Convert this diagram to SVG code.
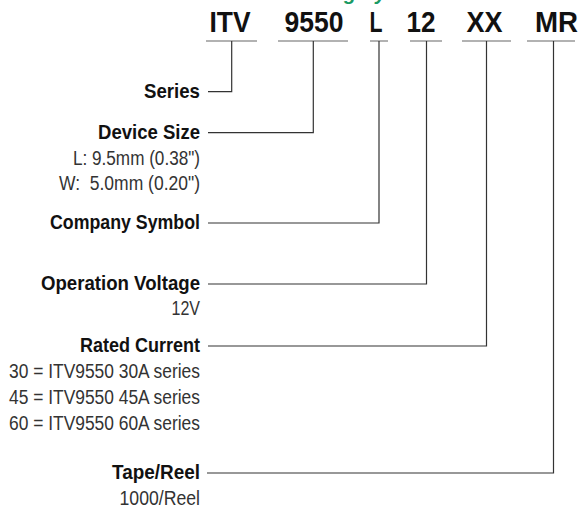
<svg xmlns="http://www.w3.org/2000/svg" width="582" height="512" viewBox="0 0 582 512">
<style>
.title{font-family:"Liberation Sans",Arial,sans-serif;font-weight:bold;font-style:italic;font-size:20px;fill:#1a9a64}
.code{font-family:"Liberation Sans Narrow","Liberation Sans",Arial,sans-serif;font-weight:bold;font-size:30px;fill:#111;text-anchor:middle}
.lbl{font-family:"Liberation Sans Narrow","Liberation Sans",Arial,sans-serif;font-weight:bold;font-size:21px;fill:#111;text-anchor:end}
.sub{font-family:"Liberation Sans Narrow","Liberation Sans",Arial,sans-serif;font-size:20.5px;fill:#333;text-anchor:end}
.ul{stroke:#666;stroke-width:1.2;fill:none}
.con{stroke:#333;stroke-width:1.2;fill:none}
</style>
<rect width="582" height="512" fill="#fff"/>
<text class="title" x="433" y="-0.5" text-anchor="end">Part Numbering System</text>
<g id="codes">
<text class="code" x="230" y="32" textLength="41" lengthAdjust="spacingAndGlyphs">ITV</text>
<text class="code" x="314" y="32" textLength="59" lengthAdjust="spacingAndGlyphs">9550</text>
<text class="code" x="376" y="32" textLength="13" lengthAdjust="spacingAndGlyphs">L</text>
<text class="code" x="421" y="32" textLength="29" lengthAdjust="spacingAndGlyphs">12</text>
<text class="code" x="484.5" y="32" textLength="36" lengthAdjust="spacingAndGlyphs">XX</text>
<text class="code" x="556.5" y="32" textLength="43" lengthAdjust="spacingAndGlyphs">MR</text>
</g>
<g id="underlines">
<path class="ul" d="M206,41H257M278,41H348M370,41H388M410,41H442M462,41H511M527,41H575"/>
</g>
<g id="connectors">
<path class="con" d="M208,91.7H231.7V41"/>
<path class="con" d="M208,132.7H313.3V41"/>
<path class="con" d="M208,223H379V41"/>
<path class="con" d="M208,284H426.5V41"/>
<path class="con" d="M208,346H486.5V41"/>
<path class="con" d="M207,473H553.5V41"/>
</g>
<g id="series"><text class="lbl" x="200" y="97.5" textLength="56" lengthAdjust="spacingAndGlyphs">Series</text></g>
<g id="device-size">
<text class="lbl" x="200" y="138.5" textLength="102" lengthAdjust="spacingAndGlyphs">Device Size</text>
<text class="sub" x="200" y="165" textLength="127" lengthAdjust="spacingAndGlyphs">L: 9.5mm (0.38")</text>
<text class="sub" x="200" y="190" textLength="141" lengthAdjust="spacingAndGlyphs" xml:space="preserve">W:  5.0mm (0.20")</text>
</g>
<g id="company-symbol"><text class="lbl" x="200" y="229" textLength="150" lengthAdjust="spacingAndGlyphs">Company Symbol</text></g>
<g id="operation-voltage">
<text class="lbl" x="200" y="290" textLength="159" lengthAdjust="spacingAndGlyphs">Operation Voltage</text>
<text class="sub" x="200" y="315" textLength="28.5" lengthAdjust="spacingAndGlyphs">12V</text>
</g>
<g id="rated-current">
<text class="lbl" x="200" y="352" textLength="120" lengthAdjust="spacingAndGlyphs">Rated Current</text>
<text class="sub" x="200" y="378" textLength="191" lengthAdjust="spacingAndGlyphs">30 = ITV9550 30A series</text>
<text class="sub" x="200" y="404" textLength="191" lengthAdjust="spacingAndGlyphs">45 = ITV9550 45A series</text>
<text class="sub" x="200" y="430" textLength="191" lengthAdjust="spacingAndGlyphs">60 = ITV9550 60A series</text>
</g>
<g id="tape-reel">
<text class="lbl" x="200" y="479" textLength="88" lengthAdjust="spacingAndGlyphs">Tape/Reel</text>
<text class="sub" x="200" y="505" textLength="80.5" lengthAdjust="spacingAndGlyphs">1000/Reel</text>
</g>
</svg>
